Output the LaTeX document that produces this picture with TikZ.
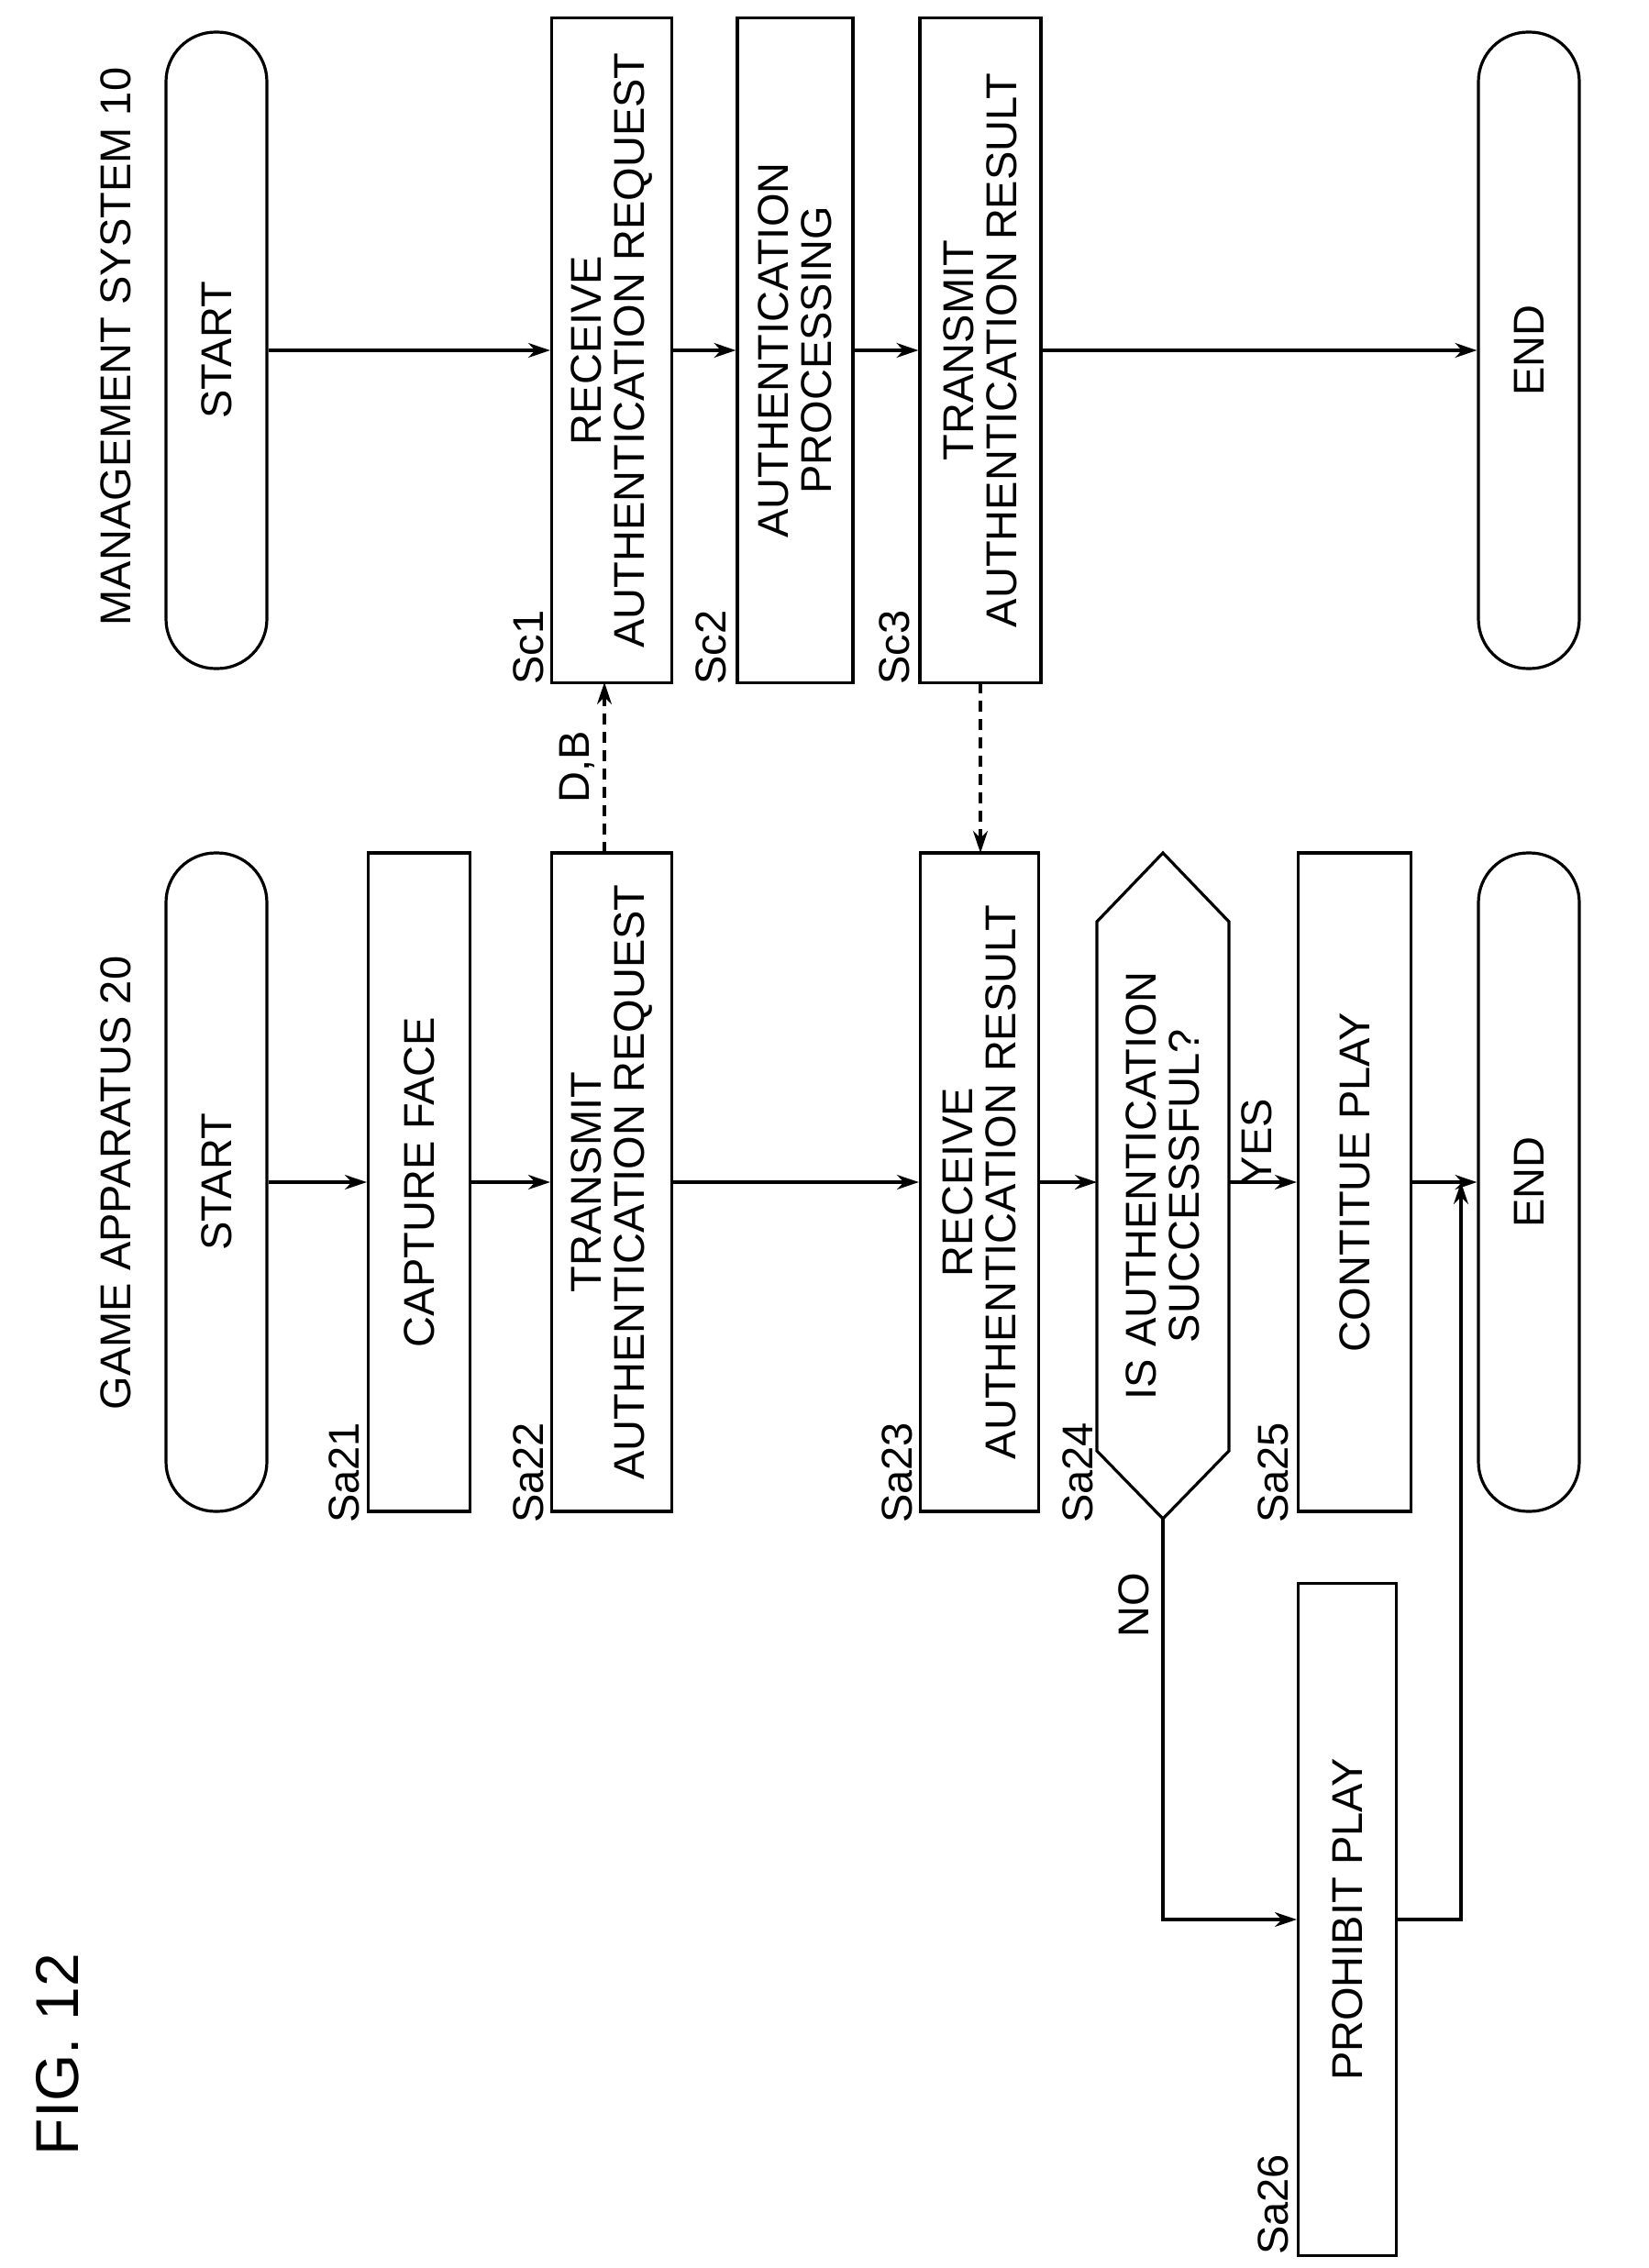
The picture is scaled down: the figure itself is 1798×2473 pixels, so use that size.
\documentclass[tikz,border=0pt]{standalone}
\usepackage{fontspec}
\setmainfont{Liberation Sans}
\usetikzlibrary{arrows.meta}
\begin{document}
\begin{tikzpicture}[x=1pt,y=-1pt,line width=3.2pt,
  every node/.style={font=\fontsize{47}{47}\selectfont,align=center},
  box/.style={draw,rectangle,rotate=90,inner sep=0pt},
  term/.style={draw,rectangle,rotate=90,rounded corners=54pt,minimum width=694pt,minimum height=110pt,inner sep=0pt},
  lab/.style={rotate=90},
  arr/.style={-{Stealth[length=24pt,width=16pt]}},
  dsh/.style={arr,dash pattern=on 12pt off 8pt}]
\useasboundingbox (0,0) rectangle (1798,2473);
% titles
\node[lab,font=\fontsize{66}{70}\selectfont] (fig) at (63,2240) {FIG. 12};
\node[lab] (t1) at (126,378) {MANAGEMENT SYSTEM 10};
\node[lab] (t2) at (126,1290) {GAME APPARATUS 20};
% top row
\node[term] (s1) at (236,382) {START};
\node[box,minimum width=725pt,minimum height=131pt] (sc1) at (667,382) {RECEIVE\\AUTHENTICATION REQUEST};
\node[box,minimum width=725pt,minimum height=126pt] (sc2) at (867,382) {AUTHENTICATION\\PROCESSING};
\node[box,minimum width=725pt,minimum height=132pt] (sc3) at (1069,382) {TRANSMIT\\AUTHENTICATION RESULT};
\node[term] (e1) at (1667,382) {END};
% bottom row
\node[term,minimum width=718pt] (s2) at (236,1289) {START};
\node[box,minimum width=718pt,minimum height=111pt] (sa21) at (457,1289) {CAPTURE FACE};
\node[box,minimum width=718pt,minimum height=131pt] (sa22) at (667,1289) {TRANSMIT\\AUTHENTICATION REQUEST};
\node[box,minimum width=718pt,minimum height=129pt] (sa23) at (1068,1289) {RECEIVE\\AUTHENTICATION RESULT};
\node[box,draw=none,minimum width=725pt,minimum height=145pt] (sa24) at (1268,1293) {IS AUTHENTICATION\\SUCCESSFUL?};
\draw (1268,930) -- (1340,1005) -- (1340,1582) -- (1268,1656) -- (1196,1582) -- (1196,1005) -- cycle;
\node[box,minimum width=718pt,minimum height=123pt] (sa25) at (1477,1289) {CONTITUE PLAY};
\node[term,minimum width=718pt] (e2) at (1667,1289) {END};
\node[box,minimum width=733pt,minimum height=107pt] (sa26) at (1469,2093) {PROHIBIT PLAY};
% step labels
\node[lab] (l1) at (576,706) {Sc1};
\node[lab] (l2) at (775,706) {Sc2};
\node[lab] (l3) at (975,706) {Sc3};
\node[lab] (l4) at (375,1606) {Sa21};
\node[lab] (l5) at (576,1606) {Sa22};
\node[lab] (l6) at (978,1606) {Sa23};
\node[lab] (l7) at (1175,1606) {Sa24};
\node[lab] (l8) at (1388,1606) {Sa25};
\node[lab] (l9) at (1388,2404) {Sa26};
\node[lab] (yes) at (1370,1245) {YES};
\node[lab] (no) at (1236,1750) {NO};
\node[lab] (db) at (629,836) {D,B};
% connectors
\draw[arr] (s1) -- (sc1);
\draw[arr] (sc1) -- (sc2);
\draw[arr] (sc2) -- (sc3);
\draw[arr] (sc3) -- (e1);
\draw[arr] (s2) -- (sa21);
\draw[arr] (sa21) -- (sa22);
\draw[arr] (sa22) -- (sa23);
\draw[arr] (sa23) -- (1196,1289);
\draw[arr] (1340,1289) -- (sa25);
\draw[arr] (sa25) -- (e2);
\coordinate (j) at (1593,1289);
\coordinate (d) at (1268,1656);
\draw[arr] (d) |- (sa26);
\draw[arr] (sa26.south) -| (j);
\draw[dsh] (659,930) -- (659,744);
\draw[dsh] (1069,744) -- (1069,930);
\end{tikzpicture}
\end{document}
